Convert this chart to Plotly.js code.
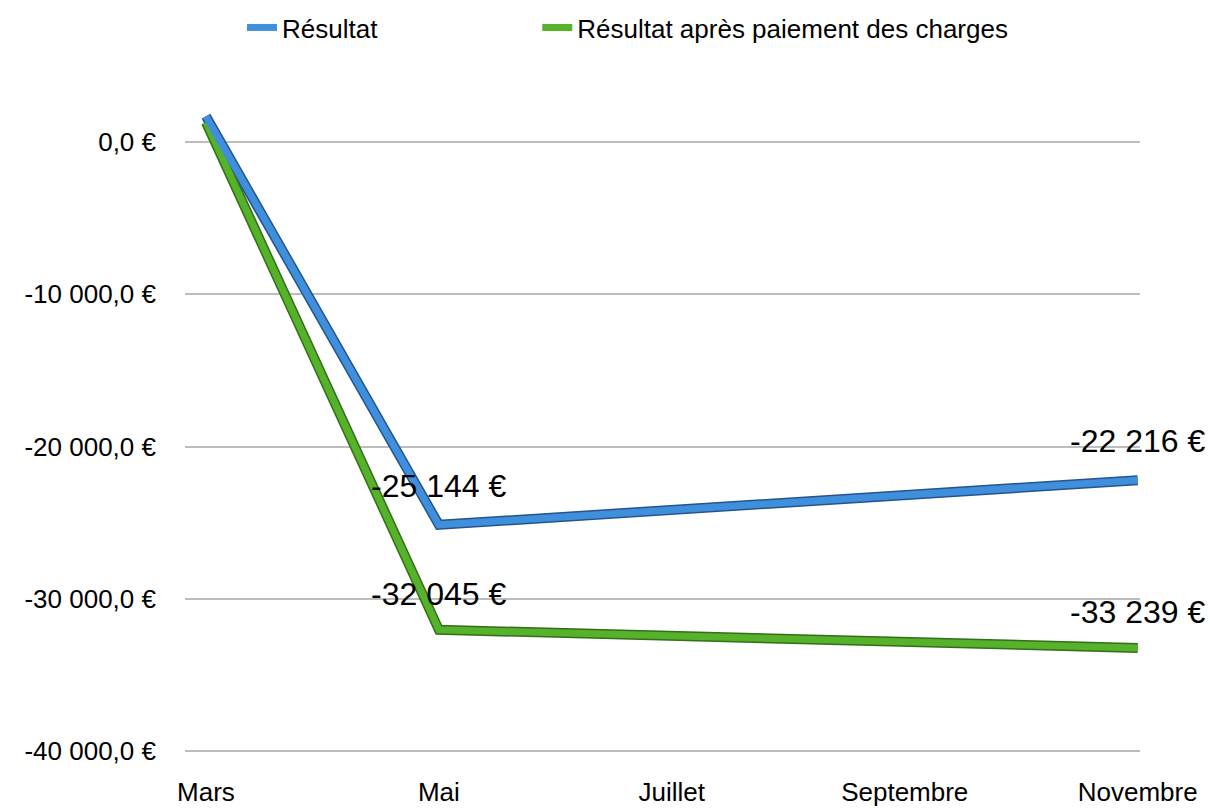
<!DOCTYPE html>
<html>
<head>
<meta charset="utf-8">
<script src="https://cdn.plot.ly/plotly-3.0.1.min.js"></script>
<style>html,body{margin:0;padding:0;background:#fff;}#chart{width:1210px;height:808px;}</style>
</head>
<body>
<div id="chart"></div>
<script>
const months = ["Mars", "Mai", "Juillet", "Septembre", "Novembre"];
const resultat = [1700, -25144, null, null, -22216];
const resultatApres = [1300, -32045, null, null, -33239];
const labelIdx = [1, 4];
const yTicks = [0, -10000, -20000, -30000, -40000];
const yTickText = ["0,0 €", "-10 000,0 €", "-20 000,0 €", "-30 000,0 €", "-40 000,0 €"];

function fmt(v) {
  const s = Math.abs(Math.round(v)).toString().replace(/\B(?=(\d{3})+(?!\d))/g, " ");
  return (v < 0 ? "-" : "") + s + " €";
}

const font = "Liberation Sans, Arial, sans-serif";
const blue = "#3f8fdc";
const green = "#56b12b";

const traces = [
  {x: months, y: resultat, mode: "lines", connectgaps: true, line: {color: "#24558c", width: 10}, showlegend: false, hoverinfo: "skip"},
  {x: months, y: resultatApres, mode: "lines", connectgaps: true, line: {color: "#336f16", width: 10}, showlegend: false, hoverinfo: "skip"},
  {x: months, y: resultatApres, mode: "lines", connectgaps: true, name: "Résultat après paiement des charges", line: {color: green, width: 7}, legend: "legend2"},
  {x: months, y: resultat, mode: "lines", connectgaps: true, name: "Résultat", line: {color: blue, width: 7}, legend: "legend"}
];

const annotations = [];
labelIdx.forEach(i => {
  annotations.push({x: months[i], y: resultat[i], text: fmt(resultat[i]), showarrow: false, yshift: 39, font: {family: font, size: 32, color: "#000"}});
  annotations.push({x: months[i], y: resultatApres[i], text: fmt(resultatApres[i]), showarrow: false, yshift: 36, font: {family: font, size: 32, color: "#000"}});
});

const legendBase = {orientation: "h", xanchor: "left", xref: "container", yref: "container", y: 0.995, yanchor: "top", font: {family: font, size: 26}, itemwidth: 30, bgcolor: "rgba(0,0,0,0)"};

const layout = {
  width: 1210, height: 808,
  margin: {l: 185, r: 70, t: 95, b: 48},
  paper_bgcolor: "#fff", plot_bgcolor: "#fff",
  font: {family: font, size: 26, color: "#000"},
  showlegend: true,
  legend: Object.assign({}, legendBase, {x: 0.2}),
  legend2: Object.assign({}, legendBase, {x: 0.444}),
  xaxis: {type: "category", range: [-0.09, 4.01], showgrid: false, zeroline: false, showline: false, ticks: "", tickfont: {family: font, size: 26}, ticklabelstandoff: 14},
  yaxis: {range: [-40600, 3100], tickvals: yTicks, ticktext: yTickText, showgrid: true, gridcolor: "#bdbdbd", gridwidth: 2, zeroline: false, showline: false, ticks: "", tickfont: {family: font, size: 26}, ticklabelstandoff: 28},
  annotations: annotations
};

Plotly.newPlot("chart", traces, layout, {displayModeBar: false, staticPlot: true});
</script>
</body>
</html>
